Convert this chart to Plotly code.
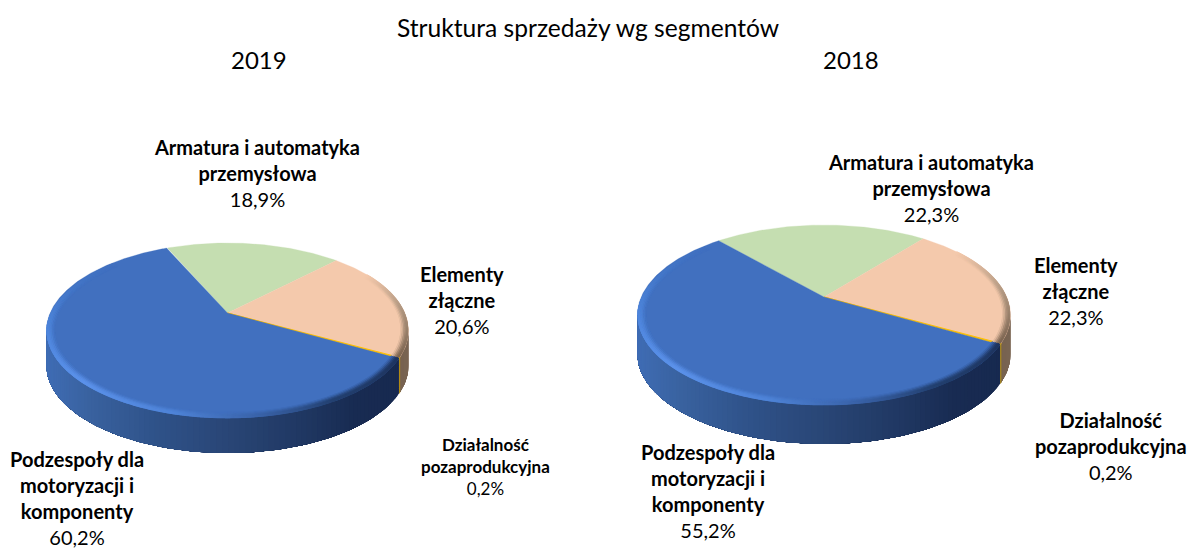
import numpy as np
import plotly.graph_objects as go

# --- data ---
title = "Struktura sprzedaży wg segmentów"
years = ["2019", "2018"]
segments = ["Armatura i automatyka przemysłowa", "Elementy złączne",
            "Działalność pozaprodukcyjna", "Podzespoły dla motoryzacji i komponenty"]
values_2019 = [18.9, 20.6, 0.2, 60.2]
values_2018 = [22.3, 22.3, 0.2, 55.2]
label_lines = [["Armatura i automatyka", "przemysłowa"], ["Elementy", "złączne"],
               ["Działalność", "pozaprodukcyjna"], ["Podzespoły dla", "motoryzacji i", "komponenty"]]

colors = ["#c5deb1", "#f4c9ac", "#ffc000", "#4170bf"]

# --- layout of the two pseudo-3D pies (page pixels) ---
K = 0.2
pies = [
    dict(vals=values_2019, cx=227.5, cy=313, a=177.4, b=84.0, start=-23.6, h=35,
         pos=[(257, 172.5), (462, 299.5), (485, 466), (77, 498)], sizes=[20, 20, 17, 20]),
    dict(vals=values_2018, cx=824, cy=297, a=182.8, b=86.4, start=-41.5, h=39,
         pos=[(931, 187.5), (1076, 290.5), (1111, 446), (708, 490.5)], sizes=[20, 20, 20, 20]),
]


def project(p, deg, r=1.0):
    t = np.radians(deg)
    u, v = r * np.sin(t), r * np.cos(t)
    w = 1 + K * v
    return p["cx"] + p["a"] * u / w, p["cy"] - p["b"] * v / w


def hex2rgb(c):
    return np.array([int(c[i:i + 2], 16) for i in (1, 3, 5)], dtype=float)


def rgbstr(c):
    return "rgb(%d,%d,%d)" % tuple(np.clip(np.round(c), 0, 255))


def ramp(x, xs, cols):
    x = np.atleast_1d(x)
    arr = np.array([hex2rgb(c) for c in cols])
    return np.array([np.interp(x, xs, arr[:, i]) for i in range(3)]).T


fig = go.Figure()


def poly(x, y, color, lw=0.0):
    fig.add_trace(go.Scatter(x=x, y=y, mode="lines", fill="toself", fillcolor=color,
                             line=dict(color=color, width=lw), hoverinfo="skip", showlegend=False))


WALL_L, WALL_R = 258.5, 101.5
wall_x = [0.0, 0.12, 0.3, 0.5, 0.7, 0.85, 1.0]
wall_c = ["#3f6cb4", "#39629f", "#2f5289", "#294676", "#203863", "#182b52", "#17294f"]

for p in pies:
    edges = np.concatenate([[0], np.cumsum(p["vals"])]) * 3.6 + p["start"]
    x_min, x_max = p["cx"] - p["a"] / np.sqrt(1 - K ** 2), p["cx"] + p["a"] / np.sqrt(1 - K ** 2)

    # side wall: overlapping strips painted in order, so no seams show
    for i in range(4):
        lo, hi = max(edges[i], WALL_R), min(edges[i + 1], WALL_L)
        if hi <= lo:
            continue
        n = max(1, int((hi - lo) / 1.5))
        grid = np.linspace(lo, hi, n + 1)
        for g0, g1 in zip(grid[:-1], grid[1:]):
            th = np.r_[np.arange(g0, hi, 1.5), hi]
            xs, ys = project(p, th)
            xm = project(p, (g0 + g1) / 2)[0]
            f = (xm - x_min) / (x_max - x_min)
            if i == 3:
                col = rgbstr(ramp(f, wall_x, wall_c)[0])
            elif i == 2:
                col = "#b8900f"
            else:
                col = rgbstr(ramp(f, [0.9, 1.0], ["#6c5847", "#7a6553"])[0])
            poly(np.r_[xs, xs[::-1], xs[0]], np.r_[ys, ys[::-1] + p["h"], ys[0]], col, 0.0 if i != 2 else 0.6)

    # top surface
    for i in range(4):
        th = np.arange(edges[i], edges[i + 1], 0.5)
        th = np.r_[th, edges[i + 1]]
        xs, ys = project(p, th)
        poly(np.r_[p["cx"], xs, p["cx"]], np.r_[p["cy"], ys, p["cy"]], colors[i], 0.3 if i != 2 else 1.0)

    # bevelled rim of the blue and peach slices
    for r, wgt in [(0.962, 0.15), (0.970, 0.4), (0.978, 0.7), (0.986, 0.9), (0.993, 1.0)]:
        th = np.linspace(edges[3], 312, 700)
        inset = 0.016 * np.clip((th - 262) / 30, 0, 1)
        xs, ys = project(p, th, r - inset)
        stops = [edges[3], 150, 172, 195, 225, 258, 285, 312]
        rim = ["#1f3560", "#23406f", "#3a63a9", "#4f84d8", "#5c92ea", "#4f86dc", "#4578c9", "#4170bf"]
        base = hex2rgb(colors[3])
        mix = base + (ramp(th, stops, rim) - base) * wgt
        fig.add_trace(go.Scatter(x=xs, y=ys, mode="markers", hoverinfo="skip", showlegend=False,
                                 marker=dict(size=2.6, color=[rgbstr(c) for c in mix], line=dict(width=0))))
        th = np.linspace(edges[1] + 16, edges[2] - 0.2, 200)
        xs, ys = project(p, th, r)
        base = hex2rgb(colors[1])
        mix = base + (ramp(th, [edges[1] + 16, 85, edges[2]], ["#f4c9ac", "#b59b84", "#7d6652"]) - base) * wgt
        fig.add_trace(go.Scatter(x=xs, y=ys, mode="markers", hoverinfo="skip", showlegend=False,
                                 marker=dict(size=2.2, color=[rgbstr(c) for c in mix], line=dict(width=0))))

    # labels
    for i, (lines, (lx, ly), fs) in enumerate(zip(label_lines, p["pos"], p["sizes"])):
        txt = "<b>" + "<br>".join(lines) + "</b><br>" + f"{p['vals'][i]:.1f}".replace(".", ",") + "%"
        fig.add_annotation(x=lx, y=ly, text=txt, showarrow=False, xanchor="center", yanchor="middle",
                           font=dict(family="Lato", size=fs, color="#000000"))

fig.add_annotation(x=588, y=27, text=title, showarrow=False, font=dict(family="Lato", size=24.6, color="#000000"))
for yr, xp in zip(years, [259, 851]):
    fig.add_annotation(x=xp, y=59, text=yr, showarrow=False, font=dict(family="Lato", size=24, color="#000000"))

fig.update_layout(width=1198, height=548, margin=dict(l=0, r=0, t=0, b=0),
                  paper_bgcolor="white", plot_bgcolor="white", showlegend=False,
                  xaxis=dict(range=[0, 1198], visible=False, fixedrange=True),
                  yaxis=dict(range=[548, 0], visible=False, fixedrange=True))

fig.write_html("out.html", config={"displayModeBar": False},
               post_script="document.body.style.margin='0';document.body.style.overflow='hidden';")
